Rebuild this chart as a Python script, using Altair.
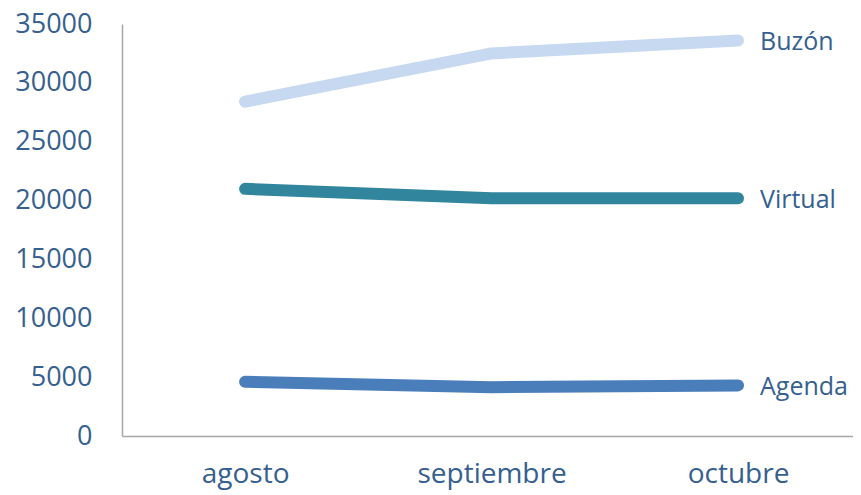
import altair as alt
import pandas as pd

months = ["agosto", "septiembre", "octubre"]
series = ["Buzón", "Virtual", "Agenda"]
buzon = [28400, 32500, 33600]
virtual = [21000, 20200, 20200]
agenda = [4600, 4150, 4300]
colors = ["#c6d9f1", "#31859c", "#4a7ebb"]

rows = []
for name, vals in zip(series, [buzon, virtual, agenda]):
    for m, v in zip(months, vals):
        rows.append({"mes": m, "serie": name, "valor": v})
df = pd.DataFrame(rows)

FONT = "Open Sans"
TXT = "#35608f"

x = alt.X("mes:N", sort=months, title=None,
          scale=alt.Scale(type="point", padding=0.483, align=0.517),
          axis=alt.Axis(labelAngle=0, ticks=False, labelFont=FONT, labelFontSize=28,
                        labelColor=TXT, labelPadding=24, domainColor="#a6a6a6",
                        domainWidth=1.5, grid=False))
y = alt.Y("valor:Q", title=None,
          scale=alt.Scale(domain=[0, 35000], nice=False),
          axis=alt.Axis(values=list(range(0, 35001, 5000)), format="d", ticks=False, grid=False,
                        labelFont=FONT, labelFontSize=27, labelColor=TXT,
                        labelPadding=30, domainColor="#a6a6a6", domainWidth=1.5))
color = alt.Color("serie:N", scale=alt.Scale(domain=series, range=colors), legend=None)

lines = alt.Chart(df).mark_line(strokeWidth=12, strokeCap="round", strokeJoin="round").encode(
    x=x, y=y, color=color, detail="serie:N")

labels = alt.Chart(df).transform_filter(alt.datum.mes == months[-1]).mark_text(
    align="left", baseline="middle", dx=22, dy=2, font=FONT, fontSize=25, color=TXT
).encode(x=x, y=y, text="serie:N")

chart = (lines + labels).properties(
    width=731, height=412,
    background="white",
    autosize=alt.AutoSizeParams(type="none"),
    padding={"left": 114, "top": 16, "right": 0, "bottom": 58},
).configure_view(stroke=None, strokeWidth=0)

chart.save("out.html", embed_options={"renderer": "svg", "actions": False})
